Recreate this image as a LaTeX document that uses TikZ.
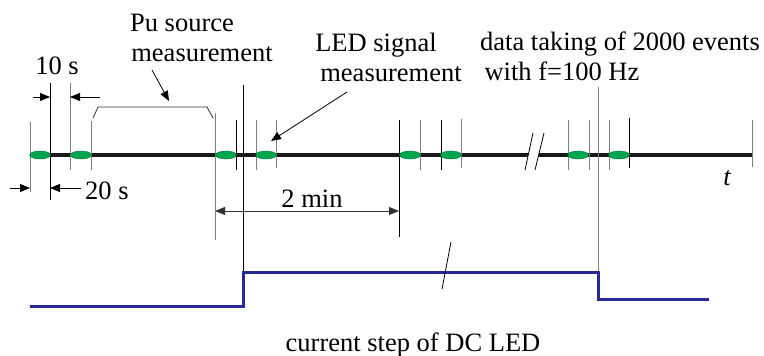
\documentclass[tikz,border=0pt]{standalone}
\usepackage{fontspec}
\setmainfont{Liberation Serif}
\usetikzlibrary{arrows.meta,shapes.geometric}
\definecolor{ledgreen}{RGB}{0,165,80}
\definecolor{stepblue}{RGB}{40,40,150}
\begin{document}
\begin{tikzpicture}[x=1pt,y=-1pt,
  gtick/.style={line width=0.9pt,draw=black!50},
  btick/.style={line width=0.9pt,draw=black},
  axisline/.style={line width=3.5pt,draw=black!90},
  ledpulse/.style={ellipse,fill=ledgreen,draw=ledgreen!70!black,line width=0.4pt,minimum width=21pt,minimum height=8pt,inner sep=0pt},
  lbl/.style={font=\fontsize{26.5}{30}\selectfont,inner sep=0pt,anchor=base},
  arr/.style={-{Triangle[length=10pt,width=8pt]},line width=0.8pt},
  dimarr/.style={{Triangle[length=10pt,width=8pt]}-{Triangle[length=10pt,width=8pt]},line width=0.8pt,draw=black!80},
  steplin/.style={line width=3pt,draw=stepblue},
]
\useasboundingbox (0,0) rectangle (764,356);

% main time axis with break
\coordinate (a0) at (30,155);
\coordinate (abreakL) at (528,155);
\coordinate (abreakR) at (539,155);
\coordinate (a1) at (752,155);
\draw[axisline] (a0) -- (abreakL);
\draw[axisline] (abreakR) -- (a1);
\draw[line width=0.8pt] (525,170) -- (533,133);
\draw[line width=0.8pt] (535,170) -- (544,133);

% ticks
\draw[gtick] (30,122) -- (30,192);
\draw[btick] (50,83) -- (50,200);
\draw[gtick] (70,83) -- (70,170);
\draw[gtick] (91,121) -- (91,170);
\draw[gtick] (215,113) -- (215,240);
\draw[btick] (236,120) -- (236,170);
\draw[btick] (243,85) -- (243,272);
\draw[gtick] (256,120) -- (256,170);
\draw[gtick] (276,120) -- (276,168);
\draw[btick] (399,120) -- (399,237);
\draw[gtick] (420,120) -- (420,170);
\draw[btick] (441,120) -- (441,170);
\draw[gtick] (461,119) -- (461,168);
\draw[gtick] (568,120) -- (568,170);
\draw[gtick] (589,120) -- (589,170);
\draw[gtick] (598,87) -- (598,272);
\draw[gtick] (609,120) -- (609,170);
\draw[btick] (629,118) -- (629,168);
\draw[gtick] (752,120) -- (752,167);

% LED pulses
\node[ledpulse] (p1) at (40,155) {};
\node[ledpulse] (p2) at (81,155) {};
\node[ledpulse] (p3) at (226,155) {};
\node[ledpulse] (p4) at (266,155) {};
\node[ledpulse] (p5) at (410,155) {};
\node[ledpulse] (p6) at (451,155) {};
\node[ledpulse] (p7) at (578,155) {};
\node[ledpulse] (p8) at (619,155) {};

% 10 s arrows
\coordinate (t10a) at (33,97);  \coordinate (t10b) at (50,97);
\coordinate (t10c) at (100,97); \coordinate (t10d) at (70,97);
\draw[arr] (t10a) -- (t10b);
\draw[arr] (t10c) -- (t10d);
\node[lbl] (l10) at (57,74) {10 s};

% 20 s arrows
\coordinate (t20a) at (10,188); \coordinate (t20b) at (30,188);
\coordinate (t20c) at (81,188); \coordinate (t20d) at (50,188);
\draw[arr] (t20a) -- (t20b);
\draw[arr] (t20c) -- (t20d);
\node[lbl,anchor=base west] (l20) at (85,199) {20 s};

% Pu source bracket
\draw[line width=0.8pt,draw=black!80] (93,118) -- (98,107) -- (207,107) -- (213,118);
\node[lbl] (pu1) at (182,31) {Pu source};
\node[lbl] (pu2) at (202,61) {measurement};
\coordinate (puS) at (152,70);
\coordinate (puE) at (169,101);
\draw[arr] (puS) -- (puE);

% LED signal measurement
\node[lbl] (led1) at (376,52) {LED signal};
\node[lbl] (led2) at (391,81) {measurement};
\coordinate (ledS) at (347,92);
\coordinate (ledE) at (271,141);
\draw[arr] (ledS) -- (ledE);

% data taking
\node[lbl] (dt1) at (620,50) {data taking of 2000 events};
\node[lbl] (dt2) at (562,80) {with f=100 Hz};

% t label
\node[lbl,font=\fontsize{26.5}{30}\selectfont\itshape] (tl) at (727,185) {t};

% 2 min
\coordinate (m2a) at (215,211);
\coordinate (m2b) at (399,211);
\draw[dimarr] (m2a) -- (m2b);
\node[lbl] (min2) at (312,207) {2 min};

% current step
\draw[steplin,line cap=rect] (31,306) -- (243,306) -- (243,272) -- (598,272) -- (598,299) -- (707,299);
\draw[line width=0.8pt] (451,242) -- (442,289);
\node[lbl] (cur) at (413,351) {current step of DC LED};
\end{tikzpicture}
\end{document}
